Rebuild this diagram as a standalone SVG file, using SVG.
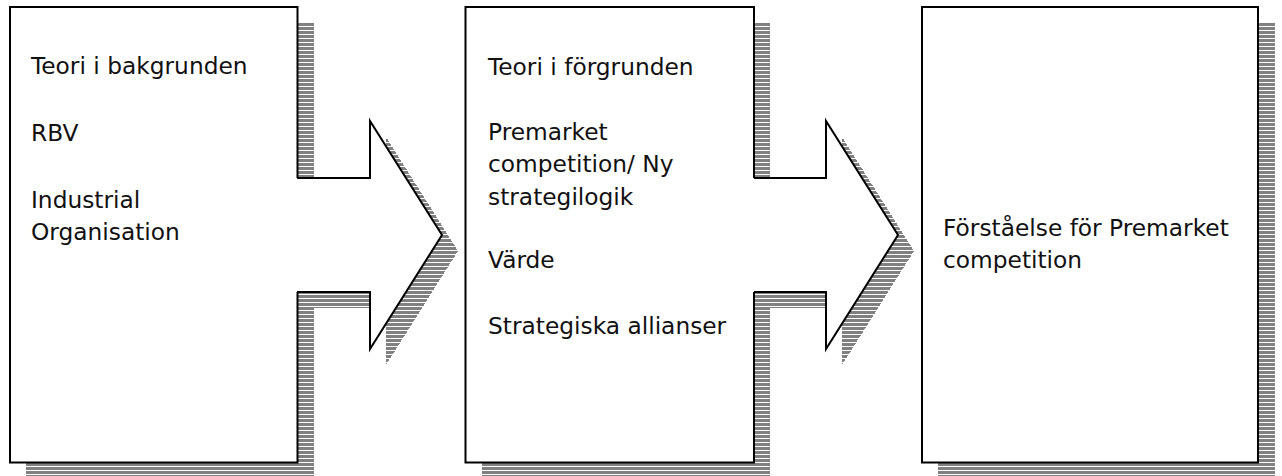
<svg xmlns="http://www.w3.org/2000/svg" width="1282" height="476" viewBox="0 0 1282 476">
<defs>
<pattern id="hatch" patternUnits="userSpaceOnUse" x="0" y="23" width="8" height="4">
<rect x="0" y="0" width="8" height="3" fill="#808080"/>
<rect x="0" y="3" width="8" height="1" fill="#ffffff"/>
</pattern>
</defs>
<style>
.box{fill:#fff;stroke:#000;stroke-width:2}
.shadow{fill:url(#hatch);shape-rendering:crispEdges}
.afill{fill:#fff;stroke:none}
.aline{fill:none;stroke:#000;stroke-width:2;stroke-linejoin:miter}
text{font-family:"DejaVu Sans","Liberation Sans",sans-serif;font-size:23.3px;fill:#111}
</style>
<rect width="1282" height="476" fill="#fff"/>
<g id="box1">
<rect class="shadow" x="26" y="23" width="288" height="456"/>
<rect class="box" x="10" y="7" width="287.5" height="455.5"/>
<text x="31" y="74">Teori i bakgrunden</text>
<text x="31" y="141">RBV</text>
<text x="31" y="208">Industrial</text>
<text x="31" y="240">Organisation</text>
</g>
<g id="box2">
<rect class="shadow" x="482" y="23" width="288" height="456"/>
<rect class="box" x="465.5" y="7" width="288.5" height="455.5"/>
<text x="488" y="75">Teori i förgrunden</text>
<text x="488" y="140">Premarket</text>
<text x="488" y="172">competition/ Ny</text>
<text x="488" y="205">strategilogik</text>
<text x="488" y="268">Värde</text>
<text x="488" y="334">Strategiska allianser</text>
</g>
<g id="box3">
<rect class="shadow" x="938" y="23" width="337" height="456"/>
<rect class="box" x="922" y="7" width="336" height="455.5"/>
<text x="943" y="236">Förståelse för Premarket</text>
<text x="943" y="268">competition</text>
</g>
<g id="connectors">
<g id="arrow1">
<polygon class="shadow" points="313,194 386,194 386,137 458,251 386,365 386,308 313,308"/>
<polygon class="afill" points="296,178 370,178 370,121 442,235 370,349 370,292 296,292"/>
<polyline class="aline" points="297,178 370,178 370,121 442,235 370,349 370,292 297,292"/>
</g>
<g id="arrow2">
<polygon class="shadow" points="770,194 842,194 842,137 914,251 842,365 842,308 770,308"/>
<polygon class="afill" points="753,178 826,178 826,121 898,235 826,349 826,292 753,292"/>
<polyline class="aline" points="754,178 826,178 826,121 898,235 826,349 826,292 754,292"/>
</g>
</g>
</svg>
